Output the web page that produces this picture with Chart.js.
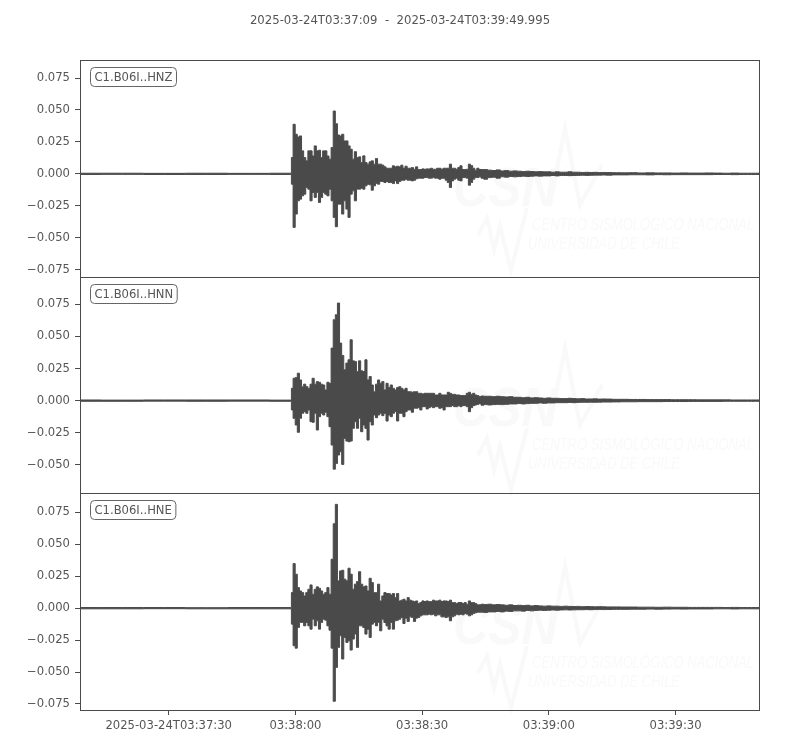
<!DOCTYPE html>
<html>
<head>
<meta charset="utf-8">
<style>
  html, body { margin: 0; padding: 0; background: #fff; }
  canvas { display: block; }
</style>
<script src="https://cdn.jsdelivr.net/npm/chart.js@4/dist/chart.umd.min.js"></script>
</head>
<body>
<canvas id="chart" width="800" height="750"></canvas>
<script>
const titleText = "2025-03-24T03:37:09  -  2025-03-24T03:39:49.995"
const traceNames = ["C1.B06I..HNZ", "C1.B06I..HNN", "C1.B06I..HNE"]
const traceAxes = ["yHnz", "yHnn", "yHne"]

// seconds after the start of the record
const times = [
  0, 10, 20, 30, 40, 49.9,
  50.2, 50.7, 51.2, 51.7, 52.2, 52.7, 53.2, 53.7, 54.2, 54.7,
  55.2, 55.7, 56.2, 56.7, 57.2, 57.7, 58.2, 58.7, 59.2, 59.7,
  60.2, 60.7, 61.2, 61.7, 62.2, 62.7, 63.2, 63.7, 64.2, 64.7,
  65.2, 65.7, 66.2, 66.7, 67.2, 67.7, 68.2, 68.7, 69.2, 69.7,
  70.2, 70.7, 71.2, 71.7, 72.2, 72.7, 73.2, 73.7, 74.2, 74.7,
  75.2, 75.7, 76.2, 76.7, 77.2, 77.7, 78.2, 78.7, 79.2, 79.7,
  80.2, 80.7, 81.2, 81.7, 82.2, 82.7, 83.2, 83.7, 84.2, 84.7,
  85.2, 85.7, 86.2, 86.7, 87.2, 87.7, 88.2, 88.7, 89.2, 89.7,
  90.2, 90.7, 91.2, 91.7, 92.2, 92.7, 93.2, 93.7, 94.2, 94.7,
  95.2, 96, 97, 98, 99, 100, 101, 102, 103, 104,
  105, 106, 107, 108, 109, 110, 111, 112, 113, 114,
  115, 116, 117, 118, 119, 120, 121, 122, 123, 124, 125,
  127, 129, 131, 133, 135, 137, 139, 141, 143, 145,
  147, 149, 151, 153, 155, 157, 159, 160.995,
]

// upper and lower envelope of each trace
const hnzUpper = [
  .0005, .0005, .0004, .0005, .0004, .0005,
  .0128, .0388, .031, .0289, .0297, .018, .0128, .0102, .018, .018,
  .014, .0219, .018, .0185, .0128, .018, .018, .014, .0115, .0206,
  .0492, .0393, .0305, .0297, .031, .0258, .0258, .0219, .0193, .0115,
  .0174, .0128, .0133, .0089, .0141, .0089, .0076, .0094, .0102, .0076,
  .012, .0076, .0076, .0068, .0055, .0044, .0044, .0044, .0063, .0055,
  .006, .0055, .0068, .0044, .006, .0044, .0044, .005, .0036, .0055,
  .0034, .0034, .0039, .0036, .0039, .0039, .0044, .0036, .0036, .0044,
  .0044, .0036, .0044, .0044, .0044, .0076, .0044, .0044, .0036, .005,
  .0063, .0034, .0034, .0036, .0076, .0065, .0044, .0029, .0044, .0034,
  .0034, .0034, .0029, .0026, .0031, .0023, .0026, .0021, .0023, .0021,
  .0018, .0021, .0018, .0016, .0018, .0016, .0016, .0013, .0016, .0013,
  .0013, .0016, .0013, .0013, .0011, .0012, .0011, .0012, .001, .0011, .001,
  .0009, .0008, .0009, .0007, .0008, .0007, .0007, .0006, .0007, .0006,
  .0006, .0007, .0006, .0005, .0006, .0005, .0005, .0005,
]
const hnzLower = [
  -.0005, -.0004, -.0005, -.0005, -.0004, -.0005,
  -.0081, -.0419, -.0315, -.0211, -.0198, -.0172, -.0159, -.0107, -.012, -.0211,
  -.0146, -.0185, -.0146, -.0224, -.0185, -.0146, -.0159, -.0172, -.012, -.0211,
  -.0341, -.0414, -.0237, -.0237, -.0315, -.0211, -.0276, -.0341, -.0159, -.0133,
  -.0211, -.012, -.012, -.0112, -.012, -.0094, -.0081, -.0086, -.0128, -.0094,
  -.0076, -.0081, -.006, -.006, -.0068, -.006, -.0068, -.0068, -.0076, -.0055,
  -.0076, -.006, -.005, -.005, -.0042, -.005, -.005, -.0055, -.005, -.0039,
  -.0034, -.0034, -.0034, -.0029, -.0029, -.0034, -.0034, -.0029, -.0034, -.0034,
  -.0042, -.0034, -.0034, -.005, -.0068, -.0107, -.0055, -.0042, -.0034, -.005,
  -.0055, -.0029, -.0029, -.0034, -.0089, -.0068, -.0042, -.0029, -.0029, -.0023,
  -.0034, -.0042, -.0029, -.0026, -.0034, -.0023, -.0026, -.0021, -.0023, -.0021,
  -.0018, -.0021, -.0018, -.0016, -.0018, -.0016, -.0016, -.0013, -.0016, -.0013,
  -.0013, -.0014, -.0013, -.0012, -.0011, -.0012, -.0011, -.001, -.001, -.0009, -.001,
  -.0008, -.0008, -.0007, -.0007, -.0008, -.0006, -.0007, -.0006, -.0006, -.0006,
  -.0006, -.0006, -.0005, -.0005, -.0006, -.0005, -.0005, -.0005,
]
const hnnUpper = [
  .0005, .0004, .0005, .0005, .0005, .0004,
  .0096, .0174, .018, .0214, .0161, .0109, .0128, .0109, .0096, .0128,
  .0174, .0128, .0148, .0143, .0128, .0122, .0083, .0143, .0135, .0409,
  .063, .0669, .076, .0448, .0352, .024, .0292, .0318, .0474, .031,
  .0305, .0227, .031, .0232, .0227, .0318, .0161, .0188, .0122, .007,
  .0128, .0161, .0135, .0148, .0083, .0135, .0102, .0122, .0096, .0083,
  .0102, .0109, .0096, .0083, .0096, .007, .007, .0065, .007, .007,
  .0057, .0057, .0052, .0057, .0057, .0057, .0057, .0057, .0044, .0044,
  .0057, .0044, .0044, .0044, .0065, .0057, .0049, .0049, .0044, .0044,
  .0039, .0039, .0039, .0057, .0065, .0049, .0057, .0044, .0039, .0031,
  .0036, .0034, .0034, .0031, .0034, .0031, .0029, .0031, .0026, .0026,
  .0023, .0026, .0021, .0023, .0021, .0018, .0021, .0018, .0018, .0016,
  .0016, .0018, .0016, .0014, .0016, .0013, .0013, .0014, .0012, .0013, .0012,
  .001, .001, .0009, .0009, .0008, .0008, .0008, .0007, .0007, .0007,
  .0006, .0006, .0006, .0006, .0005, .0005, .0005, .0005,
]
const hnnLower = [
  -.0005, -.0005, -.0004, -.0005, -.0004, -.0005,
  -.0073, -.0138, -.019, -.0247, -.0138, -.0099, -.0086, -.0099, -.0073, -.0164,
  -.0169, -.0099, -.0229, -.0125, -.0099, -.0112, -.0091, -.0125, -.0203, -.0346,
  -.0534, -.049, -.0424, -.0398, -.0497, -.0294, -.0315, -.032, -.0315, -.0216,
  -.0164, -.0216, -.0138, -.0242, -.019, -.0216, -.0307, -.0164, -.019, -.0112,
  -.0133, -.0112, -.0099, -.0117, -.0099, -.0159, -.0112, -.0125, -.0099, -.0086,
  -.0159, -.0099, -.0099, -.0125, -.0086, -.0073, -.0073, -.0091, -.006, -.006,
  -.0055, -.0073, -.0047, -.0047, -.0065, -.0055, -.0047, -.0055, -.0047, -.0047,
  -.006, -.0055, -.0073, -.0047, -.0047, -.0047, -.0039, -.0047, -.0047, -.0039,
  -.0047, -.0039, -.0039, -.0047, -.0086, -.0055, -.0039, -.0034, -.0029, -.0023,
  -.0036, -.0031, -.0034, -.0031, -.0029, -.0031, -.0029, -.0026, -.0026, -.0023,
  -.0026, -.0023, -.0021, -.0021, -.0018, -.0021, -.0018, -.0018, -.0016, -.0016,
  -.0016, -.0014, -.0016, -.0014, -.0013, -.0013, -.0012, -.0013, -.0012, -.0011, -.0011,
  -.001, -.0009, -.0009, -.0008, -.0008, -.0008, -.0007, -.0007, -.0007, -.0006,
  -.0006, -.0006, -.0006, -.0005, -.0005, -.0005, -.0005, -.0005,
]
const hneUpper = [
  .0005, .0005, .0005, .0004, .0005, .0005,
  .0122, .0349, .0266, .0161, .0135, .0122, .0096, .0122, .0148, .0182,
  .0109, .0148, .0167, .0156, .0135, .0109, .0122, .0161, .0109, .0383,
  .0661, .0813, .0214, .0292, .0297, .0227, .0214, .0313, .0266, .0148,
  .0188, .0208, .0286, .0188, .0167, .0174, .0135, .0234, .0201, .0122,
  .0122, .0188, .0057, .0096, .0122, .0115, .0115, .0104, .0115, .0083,
  .0115, .0057, .0063, .007, .0057, .0083, .0063, .0057, .0052, .0057,
  .0036, .0044, .0057, .0052, .0057, .0052, .0052, .0063, .0057, .0057,
  .0063, .0052, .0057, .0057, .0052, .0063, .0044, .0044, .0036, .0044,
  .0044, .0036, .0044, .0031, .0057, .0044, .0044, .0036, .0026, .0026,
  .0031, .0029, .0031, .0026, .0029, .0026, .0023, .0026, .0021, .0023,
  .0021, .0023, .0018, .0021, .0018, .0016, .0018, .0016, .0016, .0014,
  .0016, .0014, .0013, .0014, .0012, .0013, .0012, .0011, .0012, .0011, .001,
  .001, .0009, .0009, .0008, .0008, .0007, .0008, .0007, .0007, .0006,
  .0006, .0006, .0006, .0005, .0006, .0005, .0005, .0005,
]
const hneLower = [
  -.0005, -.0005, -.0004, -.0005, -.0005, -.0005,
  -.0125, -.0294, -.0313, -.0151, -.0112, -.0112, -.0138, -.0112, -.0138, -.0164,
  -.0086, -.0138, -.0099, -.0164, -.0112, -.0086, -.0094, -.0138, -.0172, -.0313,
  -.0729, -.0464, -.0307, -.0216, -.0398, -.0229, -.0268, -.0255, -.0328, -.0242,
  -.0203, -.0307, -.0138, -.0138, -.0151, -.0203, -.0164, -.0229, -.0125, -.0112,
  -.0138, -.0112, -.0177, -.0086, -.0112, -.0138, -.0164, -.0112, -.0164, -.0099,
  -.0094, -.0086, -.0073, -.012, -.0078, -.0104, -.0068, -.0073, -.0104, -.0078,
  -.0073, -.006, -.0052, -.0052, -.0052, -.0047, -.0052, -.0047, -.006, -.0052,
  -.0052, -.0068, -.0068, -.0073, -.0068, -.0099, -.0068, -.006, -.0047, -.0052,
  -.0047, -.0052, -.0042, -.0047, -.006, -.0052, -.0042, -.0036, -.0031, -.0031,
  -.0031, -.0034, -.0029, -.0029, -.0026, -.0029, -.0023, -.0026, -.0021, -.0021,
  -.0023, -.0018, -.0021, -.0018, -.0016, -.0018, -.0016, -.0014, -.0016, -.0014,
  -.0013, -.0014, -.0013, -.0012, -.0012, -.0011, -.0012, -.0011, -.001, -.0011, -.001,
  -.0009, -.0009, -.0008, -.0008, -.0007, -.0008, -.0007, -.0006, -.0007, -.0006,
  -.0006, -.0006, -.0005, -.0005, -.0006, -.0005, -.0005, -.0005,
]

const xTickValues = [21, 51, 81, 111, 141]
const xTickLabels = ["2025-03-24T03:37:30", "03:38:00", "03:38:30", "03:39:00", "03:39:30"]
const yTicksFull = [-0.075, -0.05, -0.025, 0, 0.025, 0.05, 0.075]
const yTicksShort = [-0.05, -0.025, 0, 0.025, 0.05, 0.075]

const ink = "#4a4a4a"
const textColor = "#555555"
const font = { family: "'DejaVu Sans'", size: 11.6 }

const points = (values) => values.map((y, i) => ({ x: times[i], y }))

const trace = (values, yAxisID, fill) => ({
  data: points(values),
  yAxisID,
  fill,
  borderColor: ink,
  backgroundColor: ink,
  borderWidth: 1,
  pointRadius: 0,
  stepped: "middle",
})

const yAxis = (min, max, tickValues) => ({
  type: "linear",
  position: "left",
  stack: "traces",
  min,
  max,
  afterFit: (scale) => { scale.width = 80 },
  afterBuildTicks: (scale) => { scale.ticks = tickValues.map((value) => ({ value })) },
  border: { display: false },
  grid: { drawOnChartArea: false, tickLength: 5, tickColor: ink, tickWidth: 1 },
  ticks: {
    color: textColor,
    font,
    padding: 5,
    callback: (v) => (v < 0 ? "\u2212" : "") + Math.abs(v).toFixed(3),
  },
})

// faint agency logo behind each trace
const watermark = {
  id: "watermark",
  beforeDatasetsDraw(chart) {
    const { ctx } = chart
    ctx.save()
    ctx.fillStyle = "#f9f9f9"
    ctx.strokeStyle = "#f9f9f9"
    ;[0, 220, 438].forEach((dy) => {
      ctx.font = "italic bold 56px 'Liberation Sans'"
      ctx.fillText("CSN", 453, 206 + dy, 104)
      ctx.font = "italic 17px 'Liberation Sans Narrow', 'Liberation Sans'"
      ctx.fillText("CENTRO SISMOL\u00d3GICO NACIONAL", 532, 230 + dy, 222)
      ctx.fillText("UNIVERSIDAD DE CHILE", 528, 249 + dy, 152)
      ctx.lineWidth = 4
      ctx.beginPath()
      ctx.moveTo(550, 205 + dy)
      ctx.lineTo(565, 128 + dy)
      ctx.lineTo(580, 205 + dy)
      ctx.lineTo(602, 165 + dy)
      ctx.stroke()
      ctx.beginPath()
      ctx.moveTo(478, 235 + dy)
      ctx.lineTo(487, 218 + dy)
      ctx.lineTo(494, 250 + dy)
      ctx.lineTo(500, 226 + dy)
      ctx.lineTo(511, 270 + dy)
      ctx.lineTo(527, 208 + dy)
      ctx.stroke()
    })
    ctx.restore()
  },
}

// frame around each trace and the station label in its corner
const frames = {
  id: "frames",
  afterDatasetsDraw(chart) {
    const { ctx, chartArea } = chart
    ctx.save()
    traceAxes.forEach((id, i) => {
      const scale = chart.scales[id]
      const top = Math.round(scale.top)
      ctx.strokeStyle = ink
      ctx.lineWidth = 1
      ctx.strokeRect(chartArea.left + 0.5, top + 0.5, chartArea.width - 1, Math.round(scale.bottom) - top)
      ctx.font = "11.6px 'DejaVu Sans'"
      const w = ctx.measureText(traceNames[i]).width + 8
      ctx.beginPath()
      ctx.roundRect(90.5, top + 7.5, w, 19, 4)
      ctx.fillStyle = "#fff"
      ctx.fill()
      ctx.strokeStyle = "#666"
      ctx.stroke()
      ctx.fillStyle = textColor
      ctx.textBaseline = "middle"
      ctx.fillText(traceNames[i], 94.5, top + 17.5)
    })
    ctx.restore()
  },
}

new Chart(document.getElementById("chart").getContext("2d"), {
  type: "line",
  data: {
    datasets: [
      trace(hnzUpper, "yHnz", "+1"),
      trace(hnzLower, "yHnz", false),
      trace(hnnUpper, "yHnn", "+1"),
      trace(hnnLower, "yHnn", false),
      trace(hneUpper, "yHne", "+1"),
      trace(hneLower, "yHne", false),
    ],
  },
  options: {
    responsive: false,
    animation: false,
    devicePixelRatio: 1,
    plugins: {
      legend: { display: false },
      tooltip: { enabled: false },
      title: {
        display: true,
        text: titleText,
        color: textColor,
        font: { family: font.family, size: 11.7, weight: "normal" },
        padding: { top: 14, bottom: 32 },
      },
    },
    scales: {
      x: {
        type: "linear",
        min: 0,
        max: 160.995,
        afterFit: (scale) => { scale.height = 40 },
        afterBuildTicks: (scale) => { scale.ticks = xTickValues.map((value) => ({ value })) },
        border: { display: false },
        grid: { drawOnChartArea: false, tickLength: 5, tickColor: ink },
        ticks: {
          color: textColor,
          font,
          maxRotation: 0,
          autoSkip: false,
          padding: 4,
          callback: (v) => xTickLabels[xTickValues.indexOf(v)],
        },
      },
      // the lowest axis in a stack comes first
      yHne: yAxis(-0.0797, 0.0899, yTicksFull),
      yHnn: yAxis(-0.0722, 0.0965, yTicksShort),
      yHnz: yAxis(-0.0805, 0.0891, yTicksFull),
      // empty axis that holds the right margin, the title stays centred on the page
      rightMargin: {
        type: "linear",
        position: "right",
        afterFit: (scale) => { scale.width = 40 },
        border: { display: false },
        grid: { display: false },
        ticks: { display: false },
      },
    },
  },
  plugins: [watermark, frames],
})
</script>
</body>
</html>
